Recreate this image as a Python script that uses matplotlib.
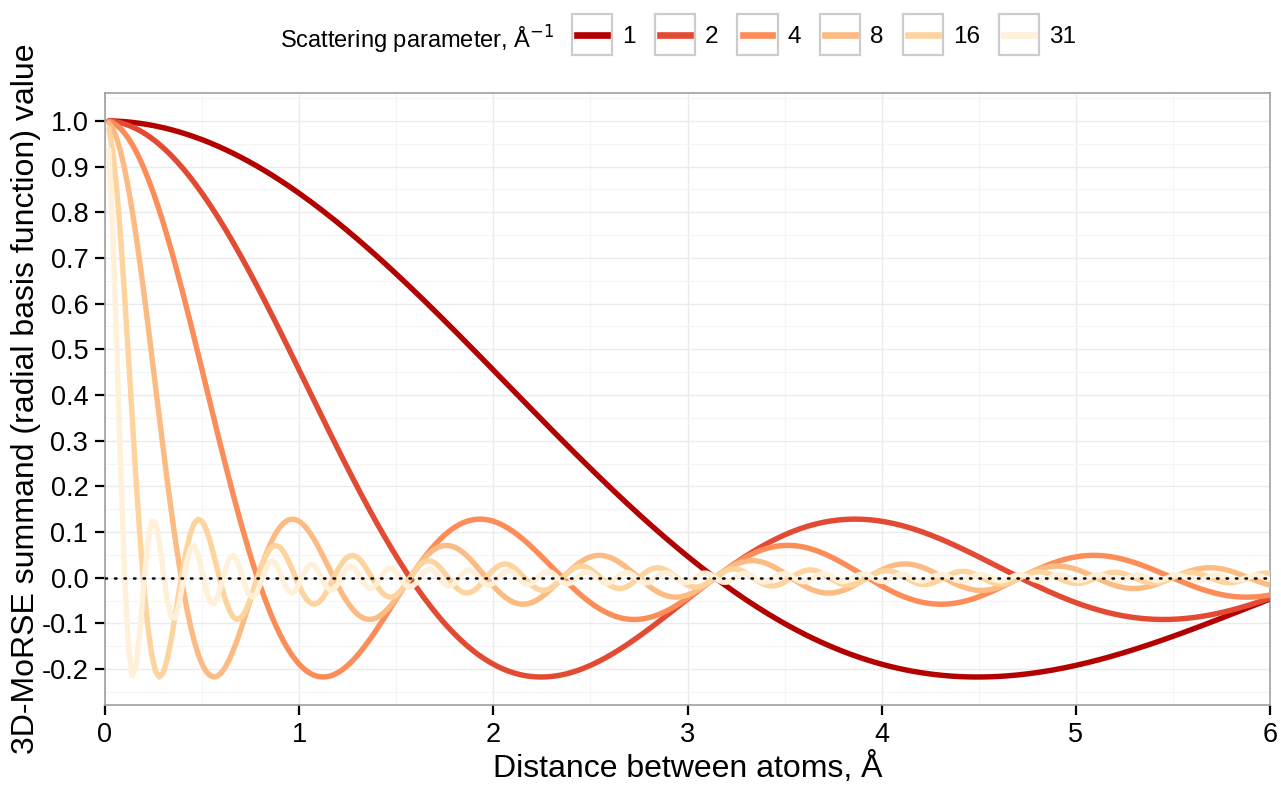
import numpy as np
import matplotlib
matplotlib.use("Agg")
import matplotlib.pyplot as plt
from matplotlib.legend_handler import HandlerLine2D
from matplotlib.patches import Rectangle
from matplotlib.lines import Line2D
from matplotlib.ticker import MultipleLocator

plt.rcParams['font.family'] = ['Liberation Sans', 'DejaVu Sans']

# Scattering parameters (Å^-1) and their colours
scattering = [1, 2, 4, 8, 16, 31]
colors = ['#B30000', '#E34A33', '#FC8D59', '#FDBB84', '#FDD49E', '#FEF0D9']
# Distances sampled at 0.02 Å steps
distance = np.arange(1, 301) * 0.02

x_ticks = [0, 1, 2, 3, 4, 5, 6]
y_ticks = [-0.2, -0.1, 0.0, 0.1, 0.2, 0.3, 0.4, 0.5, 0.6, 0.7, 0.8, 0.9, 1.0]

fig = plt.figure(figsize=(12.81, 7.92), dpi=100)
ax = fig.add_axes([105/1281, 1-705/792, (1270-105)/1281, (705-93)/792])

lines = []
for s, c in zip(scattering, colors):
    y = np.sin(s * distance) / (s * distance)
    ln, = ax.plot(distance, y, color=c, lw=3.9, solid_capstyle='round', zorder=3)
    lines.append(ln)

ax.axhline(0, color='black', lw=1.8, linestyle=(0, (0.6, 3.2)), dash_capstyle='round', zorder=4)

ax.set_xlim(0, 6)
ax.set_ylim(-0.2785, 1.061)
ax.set_xticks(x_ticks)
ax.set_xticklabels([str(v) for v in x_ticks])
ax.set_yticks(y_ticks)
ax.set_yticklabels([f"{v:.1f}" for v in y_ticks])
ax.xaxis.set_minor_locator(MultipleLocator(0.5))
ax.yaxis.set_minor_locator(MultipleLocator(0.05))
ax.grid(which='major', color='#ebebeb', lw=1.0, zorder=0)
ax.grid(which='minor', color='#f5f5f5', lw=0.8, zorder=0)
ax.set_axisbelow(True)
ax.tick_params(which='major', direction='out', length=7, width=1.6, color='black',
               labelsize=19.5, pad=5)
ax.tick_params(which='minor', length=0)
for sp in ax.spines.values():
    sp.set_color('#a0a0a0')
    sp.set_linewidth(1.2)

ax.set_xlabel('Distance between atoms, Å', fontsize=23, labelpad=3)
ax.set_ylabel('3D-MoRSE summand (radial basis function) value', fontsize=23, labelpad=0)


class BoxedHandler(HandlerLine2D):
    def create_artists(self, legend, orig_handle, xdescent, ydescent, width, height, fontsize, trans):
        side = width
        yc = -ydescent + height / 2
        rect = Rectangle((-xdescent, yc - side / 2), side, side, facecolor='white',
                         edgecolor='#cccccc', lw=1.6, transform=trans)
        pad = width * 0.13
        ln = Line2D([-xdescent + pad, -xdescent + width - pad], [yc, yc],
                    color=orig_handle.get_color(), lw=4.8, transform=trans)
        return [rect, ln]


fig.text(280/1281, 1-40/792, 'Scattering parameter, Å$^{-1}$', fontsize=17,
         ha='left', va='center')
leg = fig.legend(lines, [str(s) for s in scattering], loc='center left',
                 bbox_to_anchor=(550/1281, 1-37/792), ncol=6, frameon=False,
                 fontsize=17.5, handlelength=1.65,
                 handletextpad=0.4, columnspacing=0.8,
                 handler_map={Line2D: BoxedHandler()})

fig.savefig('out.png', dpi=100)
